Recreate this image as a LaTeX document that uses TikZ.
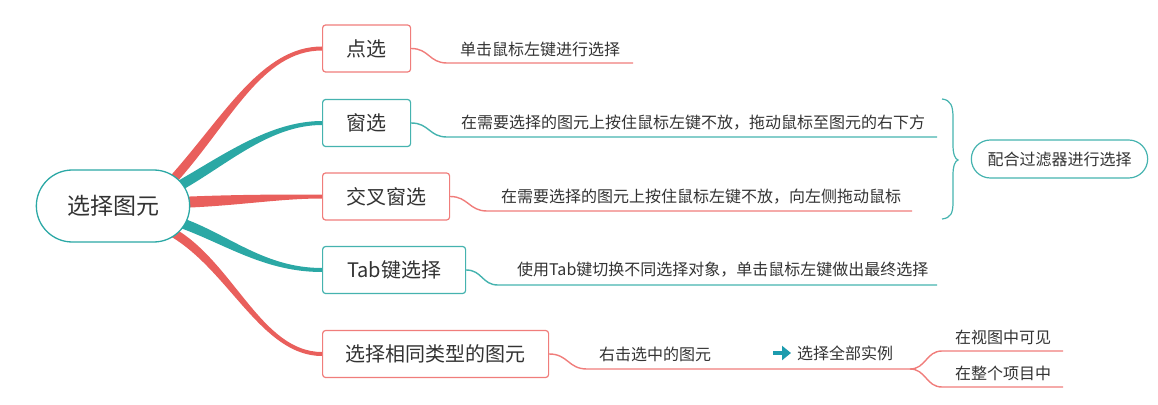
\documentclass[tikz,border=0pt]{standalone}
\usepackage{fontspec}
\setmainfont{Noto Sans CJK SC}
\usetikzlibrary{arrows.meta,calc,shapes.misc}

\pgfdeclarelayer{bg}
\pgfsetlayers{bg,main}

\definecolor{hong}{HTML}{E95F5C}
\definecolor{qing}{HTML}{2BA8A5}
\definecolor{honglt}{HTML}{F07D7B}
\definecolor{qinglt}{HTML}{45B3AF}
\definecolor{zi}{HTML}{333333}
\definecolor{jiantou}{HTML}{1C9BAE}

% 渐细的主干：颜色, 起点, 控制点1, 控制点2, 终点, 起点偏移, 终点半宽
\newcommand{\limb}[7]{%
  \fill[#1] ($(#2)+(#6)$) .. controls ($(#3)+(#6)$) and ($(#4)+(0,#7)$) .. ($(#5)+(0,#7)$)
    -- ($(#5)-(0,#7)$) .. controls ($(#4)-(0,#7)$) and ($(#3)-(#6)$) .. ($(#2)-(#6)$) -- cycle;}

\begin{document}
\begin{tikzpicture}[x=1pt,y=-1pt,
    root/.style={rounded rectangle, draw=qing, line width=1.3pt, fill=white,
      minimum width=160pt, minimum height=72pt, text=zi, font=\fontsize{23}{27}\selectfont},
    topic/.style={draw, rounded corners=3pt, line width=1.2pt, fill=white, anchor=west,
      minimum height=47pt, text=zi, font=\fontsize{20}{24}\selectfont},
    note/.style={anchor=west, inner sep=0pt, text=zi, font=\fontsize{16}{19}\selectfont},
    hline/.style={draw=honglt, line width=1.4pt},
    qline/.style={draw=qinglt, line width=1.4pt}]

    \useasboundingbox (0,0) rectangle (1158,404);

    % 中心主题
    \node[root] (root) at (113,206) {选择图元};

    % 分支主题
    \node[topic, draw=honglt, minimum width=88pt] (dx) at (322,48.5) {点选};
    \node[topic, draw=qinglt, minimum width=88pt] (cx) at (322,123) {窗选};
    \node[topic, draw=honglt, minimum width=127pt] (jc) at (322,196.5) {交叉窗选};
    \node[topic, draw=qinglt, minimum width=143pt] (tab) at (322,270) {Tab键选择};
    \node[topic, draw=honglt, minimum width=226pt] (lx) at (322,354) {选择相同类型的图元};

    % 主干
    \begin{pgfonlayer}{bg}
        \coordinate (s1) at ($(root.center)!0.95!(root.24)$);
        \coordinate (s2) at ($(root.center)!0.95!(root.17)$);
        \coordinate (s3) at ($(root.center)!0.95!(root.3)$);
        \coordinate (s4) at ($(root.center)!0.95!(root.-14)$);
        \coordinate (s5) at ($(root.center)!0.95!(root.-24)$);
        \limb{hong}{s1}{228,118}{262,48.5}{dx.west}{3.4,2.9}{2}
        \limb{qing}{s2}{225,160}{270,123}{cx.west}{2.6,4.3}{2}
        \limb{hong}{s3}{240,200}{280,196.5}{jc.west}{0,5.5}{2}
        \limb{qing}{s4}{228,240}{265,270}{tab.west}{-1.8,4.7}{2}
        \limb{hong}{s5}{232,268}{262,354}{lx.west}{-2.3,3.8}{2}
    \end{pgfonlayer}

    % 说明文字
    \node[note] (dxt) at (460,49) {单击鼠标左键进行选择};
    \node[note] (cxt) at (461,123) {在需要选择的图元上按住鼠标左键不放，拖动鼠标至图元的右下方};
    \node[note] (jct) at (501,197) {在需要选择的图元上按住鼠标左键不放，向左侧拖动鼠标};
    \node[note] (tabt) at (517,270) {使用Tab键切换不同选择对象，单击鼠标左键做出最终选择};
    \node[note] (lxt) at (599,354) {右击选中的图元};
    \node[note] (qbt) at (797,353) {选择全部实例};
    \node[note] (st1) at (955,337) {在视图中可见};
    \node[note] (st2) at (955,373) {在整个项目中};

    % 下划线
    \coordinate (dxb) at (447,63);   \coordinate (dxe) at (633,63);
    \coordinate (cxb) at (447,137);  \coordinate (cxe) at (937,137);
    \coordinate (jcb) at (487,211);  \coordinate (jce) at (912,211);
    \coordinate (tabb) at (498,285); \coordinate (tabe) at (937,285);
    \coordinate (lxb) at (587,369);  \coordinate (fork) at (910,369);
    \coordinate (st1b) at (942,351); \coordinate (st1e) at (1063,351);
    \coordinate (st2b) at (942,387); \coordinate (st2e) at (1063,387);

    \draw[hline] (dx.east) .. controls +(18,0) and +(-18,0) .. (dxb) -- (dxe);
    \draw[qline] (cx.east) .. controls +(18,0) and +(-18,0) .. (cxb) -- (cxe);
    \draw[hline] (jc.east) .. controls +(18,0) and +(-18,0) .. (jcb) -- (jce);
    \draw[qline] (tab.east) .. controls +(16,0) and +(-16,0) .. (tabb) -- (tabe);
    \draw[hline] (lx.east) .. controls +(19,0) and +(-19,0) .. (lxb) -- (fork);
    \draw[hline] (fork) .. controls +(16,0) and +(-16,0) .. (st1b) -- (st1e);
    \draw[hline] (fork) .. controls +(16,0) and +(-16,0) .. (st2b) -- (st2e);

    % 箭头
    \coordinate (arra) at (773,353);
    \coordinate (arrb) at (791,353);
    \draw[jiantou, line width=4pt, -{Triangle[length=9pt,width=14pt]}] (arra) -- (arrb);

    % 大括号
    \draw[qinglt, line width=1.2pt] (942,99) .. controls (951,100) and (953,106) .. (953,118)
        -- (953,145) .. controls (953,154) and (955,159) .. (958,160)
        .. controls (955,161) and (953,166) .. (953,175) -- (953,202)
        .. controls (953,213) and (951,218) .. (942,219);

    \node[rounded rectangle, draw=qinglt, line width=1.2pt, minimum width=183pt, minimum height=38pt,
        text=zi, font=\fontsize{16}{19}\selectfont] (flt) at (1059.5,159) {配合过滤器进行选择};
\end{tikzpicture}
\end{document}
